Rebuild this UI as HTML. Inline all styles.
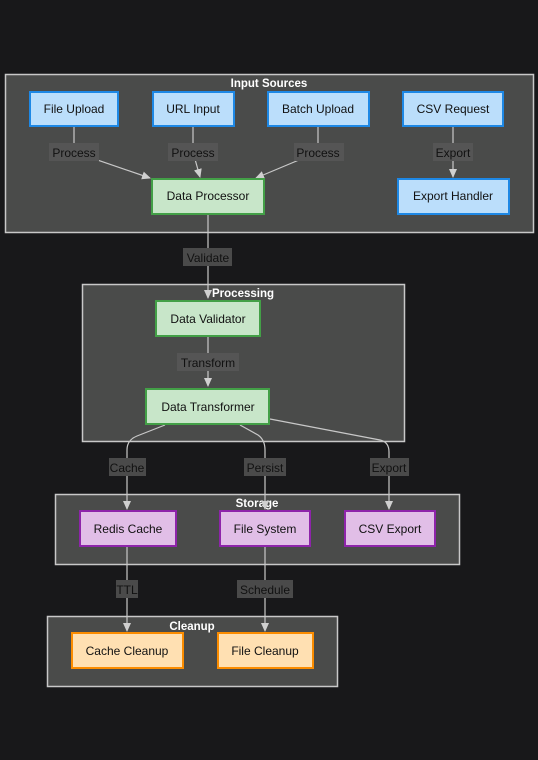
<!DOCTYPE html>
<html><head><meta charset="utf-8"><style>
html,body{margin:0;padding:0;background:#18181a;}
svg{display:block;font-family:"Liberation Sans",Arial,sans-serif;}
</style></head><body>
<svg width="538" height="760" viewBox="0 0 538 760" xmlns="http://www.w3.org/2000/svg">
<defs>
<marker id="a" markerWidth="10" markerHeight="10" refX="8" refY="5" orient="auto" markerUnits="userSpaceOnUse"><path d="M0,1 L9,5 L0,9 z" fill="#d0d0d0"/></marker>
</defs>
<rect width="538" height="760" fill="#18181a"/>
<g fill="#4a4b4a" stroke="#c8c8c8" stroke-width="1.5">
<rect x="5.5" y="74.5" width="528" height="158"/>
<rect x="82.5" y="284.5" width="322" height="157"/>
<rect x="55.5" y="494.5" width="404" height="70"/>
<rect x="47.5" y="616.5" width="290" height="70"/>
</g>
<g fill="#fff" font-size="11.5" font-weight="bold" text-anchor="middle">
<text x="269" y="87">Input Sources</text>
<text x="243" y="297">Processing</text>
<text x="257" y="507">Storage</text>
<text x="192" y="630">Cleanup</text>
</g>
<g stroke="#c8c8c8" stroke-width="1.2" fill="none" marker-end="url(#a)">
<path d="M74,127 L74,152 L150,178"/>
<path d="M193,127 L193,152 L200,177"/>
<path d="M318,127 L318,152 L256,178"/>
<path d="M453,127 L453,177"/>
<path d="M208,215 L208,298"/>
<path d="M208,337 L208,386"/>
<path d="M165,425 L137,436 Q127,440 127,450 L127,509"/>
<path d="M240,425 L258,435 Q265,440 265,450 L265,509"/>
<path d="M270,419 L380,440 Q389,442 389,452 L389,509"/>
<path d="M127,547 L127,631"/>
<path d="M265,547 L265,631"/>
</g>
<g fill="#555555">
<rect x="49" y="143" width="50" height="18"/>
<rect x="168" y="143" width="50" height="18"/>
<rect x="294" y="143" width="50" height="18"/>
<rect x="433" y="143" width="40" height="18"/>
<rect x="177" y="353" width="62" height="18"/>
</g>
<g fill="#4a4a4a">
<rect x="183" y="248" width="49" height="18"/>
<rect x="109" y="458" width="37" height="18"/>
<rect x="244" y="458" width="42" height="18"/>
<rect x="370" y="458" width="39" height="18"/>
<rect x="116" y="580" width="22" height="18"/>
<rect x="237" y="580" width="56" height="18"/>
</g>
<g fill="#111" font-size="12" text-anchor="middle">
<text x="74" y="157">Process</text>
<text x="193" y="157">Process</text>
<text x="318" y="157">Process</text>
<text x="453" y="157">Export</text>
<text x="208" y="262">Validate</text>
<text x="208" y="367">Transform</text>
<text x="127" y="472">Cache</text>
<text x="265" y="472">Persist</text>
<text x="389" y="472">Export</text>
<text x="127" y="594">TTL</text>
<text x="265" y="594">Schedule</text>
</g>
<g stroke-width="2">
<g fill="#bbdefb" stroke="#1e88e5">
<rect x="30" y="92" width="88" height="34"/>
<rect x="153" y="92" width="81" height="34"/>
<rect x="268" y="92" width="101" height="34"/>
<rect x="403" y="92" width="100" height="34"/>
<rect x="398" y="179" width="111" height="35"/>
</g>
<g fill="#c8e6c9" stroke="#43a047">
<rect x="152" y="179" width="112" height="35"/>
<rect x="156" y="301" width="104" height="35"/>
<rect x="146" y="389" width="123" height="35"/>
</g>
<g fill="#e1bee7" stroke="#8e24aa">
<rect x="80" y="511" width="96" height="35"/>
<rect x="220" y="511" width="90" height="35"/>
<rect x="345" y="511" width="90" height="35"/>
</g>
<g fill="#ffe0b2" stroke="#fb8c00">
<rect x="72" y="633" width="111" height="35"/>
<rect x="218" y="633" width="95" height="35"/>
</g>
</g>
<g fill="#111" font-size="12" text-anchor="middle">
<text x="74" y="113">File Upload</text>
<text x="193" y="113">URL Input</text>
<text x="318" y="113">Batch Upload</text>
<text x="453" y="113">CSV Request</text>
<text x="453" y="200">Export Handler</text>
<text x="208" y="200">Data Processor</text>
<text x="208" y="323">Data Validator</text>
<text x="208" y="411">Data Transformer</text>
<text x="128" y="533">Redis Cache</text>
<text x="265" y="533">File System</text>
<text x="390" y="533">CSV Export</text>
<text x="127" y="655">Cache Cleanup</text>
<text x="265" y="655">File Cleanup</text>
</g>
</svg>
</body></html>
